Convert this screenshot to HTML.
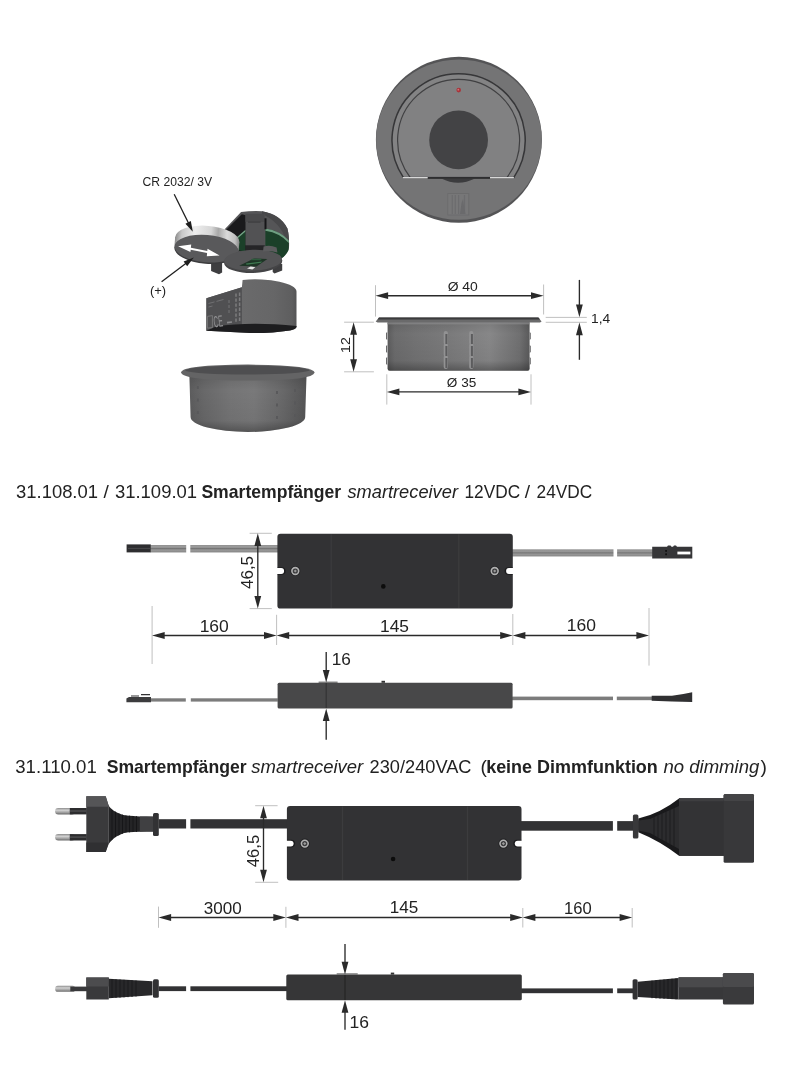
<!DOCTYPE html>
<html lang="de"><head><meta charset="utf-8"><title>Smartempfänger smartreceiver</title>
<style>
html,body{margin:0;padding:0;background:#fff;}
body{width:791px;height:1080px;overflow:hidden;font-family:"Liberation Sans",sans-serif;}
svg{display:block;position:absolute;left:0;top:0;will-change:transform;}
svg text{font-family:"Liberation Sans",sans-serif;}
</style></head><body>
<svg width="791" height="1080" viewBox="0 0 791 1080">
<defs>
<linearGradient id="gcup" x1="0" x2="1" y1="0" y2="0">
 <stop offset="0" stop-color="#5c5c5d"/><stop offset="0.05" stop-color="#6c6c6d"/><stop offset="0.2" stop-color="#737374"/><stop offset="0.45" stop-color="#7b7b7c"/><stop offset="0.72" stop-color="#878788"/><stop offset="0.93" stop-color="#707071"/><stop offset="1" stop-color="#5a5a5b"/>
</linearGradient>
<linearGradient id="gcup2" x1="0" x2="1" y1="0" y2="0">
 <stop offset="0" stop-color="#5c5c5d"/><stop offset="0.12" stop-color="#686869"/><stop offset="0.35" stop-color="#757576"/><stop offset="0.55" stop-color="#79797a"/><stop offset="0.8" stop-color="#686869"/><stop offset="1" stop-color="#555556"/>
</linearGradient>
<linearGradient id="gcupv" x1="0" x2="0" y1="0" y2="1">
 <stop offset="0" stop-color="#000" stop-opacity="0.1"/><stop offset="0.25" stop-color="#000" stop-opacity="0"/><stop offset="0.8" stop-color="#000" stop-opacity="0.05"/><stop offset="1" stop-color="#000" stop-opacity="0.3"/>
</linearGradient>
<linearGradient id="gcable" x1="0" x2="0" y1="0" y2="1">
 <stop offset="0" stop-color="#808080"/><stop offset="0.22" stop-color="#9e9e9e"/><stop offset="0.42" stop-color="#8a8a8a"/><stop offset="0.5" stop-color="#666666"/><stop offset="0.6" stop-color="#8c8c8c"/><stop offset="0.8" stop-color="#9a9a9a"/><stop offset="1" stop-color="#787878"/>
</linearGradient>
<linearGradient id="gpin" x1="0" x2="0" y1="0" y2="1">
 <stop offset="0" stop-color="#8c8c8c"/><stop offset="0.35" stop-color="#d2d2d2"/><stop offset="0.7" stop-color="#a0a0a0"/><stop offset="1" stop-color="#686868"/>
</linearGradient>
<linearGradient id="gbat" x1="0" x2="1" y1="0" y2="0">
 <stop offset="0" stop-color="#8c8c8c"/><stop offset="0.1" stop-color="#c8c8c8"/><stop offset="0.3" stop-color="#ededed"/><stop offset="0.55" stop-color="#d6d6d6"/><stop offset="0.66" stop-color="#a8a8a8"/><stop offset="0.8" stop-color="#dadada"/><stop offset="0.93" stop-color="#c0c0c0"/><stop offset="1" stop-color="#8a8a8a"/>
</linearGradient>
<linearGradient id="gmid" x1="0" x2="1" y1="0" y2="0">
 <stop offset="0" stop-color="#565657"/><stop offset="0.4" stop-color="#6a6a6b"/><stop offset="0.75" stop-color="#666667"/><stop offset="0.95" stop-color="#5e5e5f"/><stop offset="1" stop-color="#545455"/>
</linearGradient>
<radialGradient id="grim" cx="0.5" cy="0.5" r="0.5">
 <stop offset="0" stop-color="#6f6f71"/><stop offset="0.95" stop-color="#6d6d6f"/><stop offset="1" stop-color="#5a5a5c"/>
</radialGradient>
<linearGradient id="gbox" x1="0" x2="0" y1="0" y2="1">
 <stop offset="0" stop-color="#38383a"/><stop offset="1" stop-color="#303032"/>
</linearGradient>
</defs>
<rect x="0" y="0" width="791" height="1080" fill="#ffffff"/>
<g id="topview">
<circle cx="458.9" cy="139.8" r="83" fill="#545456"/>
<ellipse cx="458.9" cy="139.6" rx="82.8" ry="80.2" fill="#747475"/>
<path d="M403.6,177.8 A66.6,66.6 0 1 1 513.6,177.8 Z" fill="#838384" stroke="#363638" stroke-width="1.5"/>
<path d="M410.5,177.8 A61,61 0 1 1 506.7,177.8 Z" fill="#818182" stroke="#404042" stroke-width="1.2"/>
<circle cx="458.6" cy="139.9" r="29.4" fill="#434345"/>
<circle cx="458.7" cy="90.1" r="2.3" fill="#a8343a"/>
<circle cx="458.3" cy="89.7" r="0.9" fill="#d07278"/>
<path d="M441.3,178.5 Q458,187 475,178.5 Z" fill="#3c3c3e"/>
<rect x="402.7" y="176.9" width="111.2" height="1.8" fill="#2e2e30"/>
<rect x="402.7" y="177" width="25" height="1.5" fill="#d8d8d8"/>
<rect x="490" y="177" width="23.9" height="1.5" fill="#d8d8d8"/>
<rect x="447.8" y="193.6" width="21" height="21.4" fill="#777778" stroke="#6a6a6c" stroke-width="0.8"/>
<path d="M452.3,195 V214 M455.3,195 V214 M458.6,195 V214 M464.5,195 V214" stroke="#6c6c6e" stroke-width="1.2" fill="none"/>
<path d="M460,214 L461.5,203 L463,199 L464,206 L465.5,214 Z" fill="#6a6a6c"/>
</g>
<g id="exploded">
<text x="142.60" y="185.8" font-size="12.7" fill="#222222" textLength="69.6" lengthAdjust="spacingAndGlyphs">CR 2032/ 3V</text>
<text x="149.95" y="295.4" font-size="12.7" fill="#222222" textLength="16.2" lengthAdjust="spacingAndGlyphs">(+)</text>
<path d="M224.7,229.3 L241.1,212 Q252,210.6 262,211.2 Q280,214 287.4,228.4 Q289.4,236 289,248 Q287,254 282,258 L262,262 L232,250 Z" fill="#555557"/>
<path d="M262,211.2 Q280,214 287.4,228.4 Q289.4,236 289,248 L286,240 Q280,222 262,214 Z" fill="#48484a"/>
<path d="M226.4,229.6 L241.8,214.2 L246,215.2 L246,252 L232,250 Z" fill="#1a1a1c"/>
<path d="M236.7,238 L245.5,230.6 L245.5,252 L238,250 Z" fill="#1b4029"/>
<path d="M236.2,237.8 L245.5,229.8 L245.5,231.6 L237.2,238.8 Z" fill="#74a486"/>
<path d="M265.4,228.6 Q280,231 288.8,241 L288.6,250 Q286,256 281,258.4 L265.4,252 Z" fill="#1b4029"/>
<path d="M265.4,228.4 Q280,230.6 288.8,240.4 L288.8,243 Q280,233 265.4,230.8 Z" fill="#6f9f82"/>
<path d="M245.5,245 H264.5 L266,251 H245.5 Z" fill="#252527"/>
<rect x="245.5" y="213.9" width="19" height="31.4" fill="#525254"/>
<rect x="245.5" y="213.9" width="19" height="8" fill="#4a4a4c"/>
<rect x="248" y="221.6" width="12.5" height="1" fill="#3a3a3c"/>
<rect x="264.5" y="218.3" width="2" height="11" fill="#161618"/>
<path d="M211.1,262 H222.1 V272.5 L219,274.2 L211.1,271 Z" fill="#3e3e40"/>
<path d="M272.7,264 H282.2 V270.6 L274.5,273.6 L272.7,272 Z" fill="#3e3e40"/>
<g transform="rotate(4.8 206.5 248.7)">
<ellipse cx="206.5" cy="239.6" rx="32.2" ry="13.8" fill="url(#gbat)"/>
<rect x="174.3" y="239.6" width="64.4" height="9" fill="url(#gbat)"/>
<ellipse cx="206.5" cy="249.9" rx="32.2" ry="14" fill="#3c3c3e"/>
<ellipse cx="206.5" cy="248.7" rx="31.9" ry="13.7" fill="#59595b"/>
</g>
<polygon points="178.1,246.3 191.2,244.4 190.9,247.7 207.3,250.9 207.5,248.8 219.6,255.4 206.8,256.3 207.1,252.9 190.7,249.7 190.4,252" fill="#ffffff"/>
<line x1="174.20" y1="194.30" x2="189.06" y2="224.18" stroke="#1e1e1e" stroke-width="1.3"/><polygon points="192.80,231.70 185.44,223.63 190.81,220.96" fill="#1e1e1e"/>
<line x1="161.60" y1="281.70" x2="187.09" y2="262.55" stroke="#1e1e1e" stroke-width="1.3"/><polygon points="193.80,257.50 187.21,266.21 183.60,261.41" fill="#1e1e1e"/>
<g transform="rotate(-2 253 261)">
<ellipse cx="253.1" cy="261.6" rx="29.2" ry="11.4" fill="#444446"/>
<ellipse cx="253.1" cy="260.2" rx="29" ry="10.4" fill="#545456"/>
</g>
<path d="M263,251.6 L263.6,246.6 Q270,244.6 276.6,247.6 L277.4,252.6 Q270,250 263,251.6 Z" fill="#5c5c5e"/>
<path d="M239.2,265.8 L254,258.6 L267.4,258.9 L256.5,266.6 Z" fill="#1e3526"/>
<path d="M246,263.6 L262,261.4 L261,262.8 L246.5,264.8 Z" fill="#3f7a52"/>
<path d="M252,258.8 H262 L260.6,260.2 H251 Z" fill="#2d5a3c"/>
<path d="M247,268.4 L250.6,266.6 L255.4,267.2 L252.4,269.4 Z" fill="#e6e6e6"/>
<path d="M206.4,298.3 L241.9,287.2 L242.6,279.9 A41.5,12.2 0 0 1 296.5,291.5 L296.5,327 Q296,329.4 290,330.4 Q272,333.2 250,333 L206.4,330.7 Z" fill="url(#gmid)"/>
<path d="M206.4,298.3 L241.9,287.2 L241.9,326 L206.4,330.7 Z" fill="#505052"/>
<path d="M206.4,330.7 L216,326.5 Q250,321.5 296.5,326 L296.5,327 Q296,329.4 290,330.4 Q272,333.2 250,333 Z" fill="#1d1d1f"/>
<text x="0" y="0" font-size="8.5" fill="#929294" transform="translate(214.3,327.4) rotate(-7) scale(0.78,1.9)">CE</text>
<path d="M207.4,316.4 l5,-0.8 v12 l-5,0.6 Z" fill="none" stroke="#7a7a7c" stroke-width="0.9"/>
<path d="M208.5,303.5 l6,-1.6 M216.5,301.4 l7,-1.9 M208.5,307 l4,-1" stroke="#707072" stroke-width="1" fill="none"/>
<path d="M227,322.6 l5,-0.6" stroke="#8a8a8c" stroke-width="1.6" fill="none"/>
<path d="M229,300 v14" stroke="#6a6a6c" stroke-width="1.4" fill="none" stroke-dasharray="3 2"/>
<path d="M236,293.4 v30 M239.6,292.6 v30" stroke="#7c7c7e" stroke-width="1.5" fill="none" stroke-dasharray="3.4 1.6"/>
<path d="M189.4,376 L190.6,417 A57.3,15 0 0 0 305.2,417 L306.5,376 Z" fill="url(#gcup2)"/>
<path d="M189.4,376 L190.6,417 A57.3,15 0 0 0 305.2,417 L306.5,376 Z" fill="url(#gcupv)"/>
<path d="M181.1,372.5 Q182,365 247.9,364.6 Q314,365 314.7,372.5 Q313,380.6 247.9,380.6 Q183,380.6 181.1,372.5 Z" fill="#646465"/>
<path d="M185,370.8 Q189,366 248.5,365.6 Q307,366 310,370.6 Q300,374.4 248.5,374.6 Q195,374.4 185,370.8 Z" fill="#4e4e50"/>
<path d="M277,391 v36 M295,389 v33 M197.8,386 v30" stroke="#58585a" stroke-width="1.8" fill="none" stroke-dasharray="3 9.5"/>
</g>
<g id="cupdim">
<path d="M387.6,321 H529.6 V368.4 Q529.6,370.7 527.6,370.7 H389.6 Q387.6,370.7 387.6,368.4 Z" fill="url(#gcup)"/>
<path d="M387.6,321 H529.6 V368.4 Q529.6,370.7 527.6,370.7 H389.6 Q387.6,370.7 387.6,368.4 Z" fill="url(#gcupv)"/>
<path d="M386,333 l1.2,-1 v8 l-1.2,-1 Z M386,346 l1.2,-1 v8 l-1.2,-1 Z M386,358 l1.2,-1 v8 l-1.2,-1 Z M530.8,333 l-1.2,-1 v8 l1.2,-1 Z M530.8,346 l-1.2,-1 v8 l1.2,-1 Z M530.8,358 l-1.2,-1 v8 l1.2,-1 Z" fill="#6a6a6b"/>
<path d="M375.7,321.6 L379,317.5 L538.4,317.5 L541.6,321.4 L540,322.6 L377.6,322.6 Z" fill="#6a6a6b"/>
<path d="M377.6,319.4 L379,317.5 L538.4,317.5 L540,319.4 Z" fill="#3a3a3c"/>
<rect x="387.1" y="322.4" width="142.5" height="2" fill="#8a8a8c" opacity="0.7"/>
<path d="M445.8,333 v36 M471.3,333 v36" stroke="#929293" stroke-width="4.2" fill="none" stroke-dasharray="10 2" stroke-linecap="round"/>
<path d="M446.4,334 v35 M471.9,334 v35" stroke="#5c5c5e" stroke-width="2" fill="none" stroke-dasharray="10 2"/>
<line x1="375.5" y1="285.2" x2="375.5" y2="316.6" stroke="#b0b0b0" stroke-width="0.8"/>
<line x1="543.6" y1="284.5" x2="543.6" y2="314.5" stroke="#b0b0b0" stroke-width="0.8"/>
<line x1="385.58" y1="295.70" x2="533.52" y2="295.70" stroke="#2a2a2a" stroke-width="1.3499999999999999"/><polygon points="543.60,295.70 531.00,299.10 531.00,292.30" fill="#2a2a2a"/><polygon points="375.50,295.70 388.10,299.10 388.10,292.30" fill="#2a2a2a"/>
<text x="447.65" y="290.9" font-size="13.2" fill="#222222" textLength="30.19" lengthAdjust="spacingAndGlyphs">Ø 40</text>
<line x1="386.8" y1="374.3" x2="386.8" y2="404.6" stroke="#b0b0b0" stroke-width="0.8"/>
<line x1="531" y1="374.3" x2="531" y2="404.6" stroke="#b0b0b0" stroke-width="0.8"/>
<line x1="396.88" y1="391.90" x2="520.92" y2="391.90" stroke="#2a2a2a" stroke-width="1.3499999999999999"/><polygon points="531.00,391.90 518.40,395.30 518.40,388.50" fill="#2a2a2a"/><polygon points="386.80,391.90 399.40,395.30 399.40,388.50" fill="#2a2a2a"/>
<text x="446.80" y="387" font-size="13.2" fill="#222222" textLength="29.43" lengthAdjust="spacingAndGlyphs">Ø 35</text>
<line x1="344.1" y1="322.2" x2="373.9" y2="322.2" stroke="#b0b0b0" stroke-width="0.8"/>
<line x1="344.1" y1="371.8" x2="373.9" y2="371.8" stroke="#b0b0b0" stroke-width="0.8"/>
<line x1="353.60" y1="332.28" x2="353.60" y2="361.72" stroke="#2a2a2a" stroke-width="1.3499999999999999"/><polygon points="353.60,371.80 350.20,359.20 357.00,359.20" fill="#2a2a2a"/><polygon points="353.60,322.20 350.20,334.80 357.00,334.80" fill="#2a2a2a"/>
<text x="0" y="0" font-size="13.4" fill="#222222" textLength="15.91" lengthAdjust="spacingAndGlyphs" transform="translate(349.7,353.00) rotate(-90)">12</text>
<line x1="545.7" y1="317.4" x2="586.8" y2="317.4" stroke="#b0b0b0" stroke-width="0.8"/>
<line x1="545.7" y1="322.3" x2="586.8" y2="322.3" stroke="#b0b0b0" stroke-width="0.8"/>
<line x1="579.40" y1="279.90" x2="579.40" y2="307.12" stroke="#2a2a2a" stroke-width="1.3499999999999999"/><polygon points="579.40,317.20 576.00,304.60 582.80,304.60" fill="#2a2a2a"/>
<line x1="579.40" y1="359.80" x2="579.40" y2="332.68" stroke="#2a2a2a" stroke-width="1.3499999999999999"/><polygon points="579.40,322.60 582.80,335.20 576.00,335.20" fill="#2a2a2a"/>
<text x="591.10" y="322.8" font-size="13.0" fill="#222222" textLength="19.15" lengthAdjust="spacingAndGlyphs">1,4</text>
</g>
<g id="h1">
<text x="16.05" y="498.3" font-size="18.2" fill="#222222" textLength="81.93" lengthAdjust="spacingAndGlyphs">31.108.01</text>
<text x="106.20" y="498.3" font-size="19.2" fill="#222222" text-anchor="middle">/</text>
<text x="114.95" y="498.3" font-size="18.2" fill="#222222" textLength="82.13" lengthAdjust="spacingAndGlyphs">31.109.01</text>
<text x="201.40" y="498.3" font-size="18.2" fill="#222222" textLength="139.75" lengthAdjust="spacingAndGlyphs" font-weight="bold">Smartempfänger</text>
<text x="347.40" y="498.3" font-size="18.2" fill="#222222" textLength="110.6" lengthAdjust="spacingAndGlyphs" font-style="italic">smartreceiver</text>
<text x="464.45" y="498.3" font-size="18.2" fill="#222222" textLength="55.67" lengthAdjust="spacingAndGlyphs">12VDC</text>
<text x="527.45" y="498.3" font-size="19.2" fill="#222222" text-anchor="middle">/</text>
<text x="536.55" y="498.3" font-size="18.2" fill="#222222" textLength="55.64" lengthAdjust="spacingAndGlyphs">24VDC</text>
</g>
<g id="rec1">
<rect x="150.5" y="545.1" width="35.7" height="7.3" fill="url(#gcable)"/>
<rect x="190.3" y="545.1" width="88" height="7.3" fill="url(#gcable)"/>
<rect x="126.6" y="544.4" width="24.2" height="8" fill="#2e2e30"/>
<rect x="128" y="547.9" width="22" height="1" fill="#4a4a4c"/>
<rect x="512" y="549.4" width="101.5" height="7" fill="url(#gcable)"/>
<rect x="617.1" y="549.4" width="36.5" height="7" fill="url(#gcable)"/>
<path d="M652.2,546.8 H667 L668,545.4 H670.5 L671.5,546.8 H673 L674,545.4 H676 L677,546.8 H692.3 V558.4 H652.2 Z" fill="#363638"/>
<rect x="677.4" y="551.6" width="13" height="2.8" fill="#ffffff"/>
<rect x="665.2" y="550" width="1.8" height="1.8" fill="#111"/><rect x="665.2" y="553.4" width="1.8" height="1.8" fill="#111"/>
<rect x="277.4" y="533.7" width="235.4" height="74.9" rx="3.2" fill="#323234"/><line x1="331.2" y1="534.2" x2="331.2" y2="608.1" stroke="#3c3c3e" stroke-width="1.2"/><line x1="458.8" y1="534.2" x2="458.8" y2="608.1" stroke="#3c3c3e" stroke-width="1.2"/><path d="M277.7,567.2 H281.79999999999995 A3.8,3.8 0 0 1 281.79999999999995,574.8 H277.7 Z" fill="#1c1c1e"/><path d="M512.5,567.2 H508.4 A3.8,3.8 0 0 0 508.4,574.8 H512.5 Z" fill="#1c1c1e"/><path d="M276.4,568.1 H281.2 A2.9,2.9 0 0 1 281.2,573.9 H276.4 Z" fill="#fff"/><path d="M513.8,568.1 H508.99999999999994 A2.9,2.9 0 0 0 508.99999999999994,573.9 H513.8 Z" fill="#fff"/><circle cx="295.29999999999995" cy="571" r="5" fill="#222224"/><circle cx="295.29999999999995" cy="571" r="3.4" fill="#3a3a3c" stroke="#b0b0b0" stroke-width="1.6"/><path d="M293.69999999999993,571 L295.29999999999995,569.4 L296.9,571 L295.29999999999995,572.6 Z" fill="#9a9a9a"/><circle cx="494.69999999999993" cy="571" r="5" fill="#222224"/><circle cx="494.69999999999993" cy="571" r="3.4" fill="#3a3a3c" stroke="#b0b0b0" stroke-width="1.6"/><path d="M493.0999999999999,571 L494.69999999999993,569.4 L496.29999999999995,571 L494.69999999999993,572.6 Z" fill="#9a9a9a"/><circle cx="383.3" cy="586.4" r="2.3" fill="#0c0c0c"/>
<line x1="249.6" y1="533.3" x2="271.8" y2="533.3" stroke="#b0b0b0" stroke-width="0.8"/>
<line x1="249.6" y1="608.6" x2="271.8" y2="608.6" stroke="#b0b0b0" stroke-width="0.8"/>
<line x1="257.80" y1="543.38" x2="257.80" y2="598.52" stroke="#2a2a2a" stroke-width="1.3499999999999999"/><polygon points="257.80,608.60 254.40,596.00 261.20,596.00" fill="#2a2a2a"/><polygon points="257.80,533.30 254.40,545.90 261.20,545.90" fill="#2a2a2a"/>
<text x="0" y="0" font-size="15.9" fill="#222222" textLength="33.13" lengthAdjust="spacingAndGlyphs" transform="translate(253.3,589.05) rotate(-90)">46,5</text>
<line x1="152.1" y1="606" x2="152.1" y2="664" stroke="#b0b0b0" stroke-width="0.8"/>
<line x1="276.6" y1="614.8" x2="276.6" y2="645" stroke="#b0b0b0" stroke-width="0.8"/>
<line x1="512.8" y1="614" x2="512.8" y2="645" stroke="#b0b0b0" stroke-width="0.8"/>
<line x1="649" y1="608" x2="649" y2="665.6" stroke="#b0b0b0" stroke-width="0.8"/>
<line x1="162.18" y1="635.50" x2="266.52" y2="635.50" stroke="#2a2a2a" stroke-width="1.3499999999999999"/><polygon points="276.60,635.50 264.00,638.90 264.00,632.10" fill="#2a2a2a"/><polygon points="152.10,635.50 164.70,638.90 164.70,632.10" fill="#2a2a2a"/>
<line x1="286.68" y1="635.50" x2="502.72" y2="635.50" stroke="#2a2a2a" stroke-width="1.3499999999999999"/><polygon points="512.80,635.50 500.20,638.90 500.20,632.10" fill="#2a2a2a"/><polygon points="276.60,635.50 289.20,638.90 289.20,632.10" fill="#2a2a2a"/>
<line x1="522.88" y1="635.50" x2="638.92" y2="635.50" stroke="#2a2a2a" stroke-width="1.3499999999999999"/><polygon points="649.00,635.50 636.40,638.90 636.40,632.10" fill="#2a2a2a"/><polygon points="512.80,635.50 525.40,638.90 525.40,632.10" fill="#2a2a2a"/>
<text x="199.65" y="631.7" font-size="15.9" fill="#222222" textLength="29.17" lengthAdjust="spacingAndGlyphs">160</text>
<text x="380.05" y="631.6" font-size="15.9" fill="#222222" textLength="28.98" lengthAdjust="spacingAndGlyphs">145</text>
<text x="566.75" y="631.4" font-size="15.9" fill="#222222" textLength="29.17" lengthAdjust="spacingAndGlyphs">160</text>
<rect x="151" y="698.3" width="34.8" height="3.3" fill="#7c7c7c"/>
<rect x="190.8" y="698.3" width="87" height="3.3" fill="#7c7c7c"/>
<path d="M126.4,698.4 L129,697 L151,697 L151,702.2 L126.4,702.2 Z" fill="#3c3c3e"/>
<path d="M131,696 H139 M141,694.6 H150" stroke="#333335" stroke-width="1.1" fill="none"/>
<rect x="512" y="696.6" width="101" height="3.6" fill="#7c7c7c"/>
<rect x="616.8" y="696.6" width="36" height="3.6" fill="#7c7c7c"/>
<path d="M651.7,695.8 L672,695.8 Q682,694.6 692.2,692.3 L692.2,702.1 L672,701.4 L651.7,700.8 Z" fill="#303032"/>
<rect x="318.6" y="681.5" width="19" height="1.6" fill="#8a8a8a"/>
<rect x="381.5" y="680.8" width="3.5" height="2" fill="#333"/>
<rect x="277.6" y="682.8" width="235" height="25.6" rx="1.5" fill="#484849"/>
<rect x="325.6" y="683" width="1.2" height="25" fill="#2c2c2e" opacity="0.7"/>
<line x1="326.20" y1="652.00" x2="326.20" y2="672.52" stroke="#2a2a2a" stroke-width="1.3499999999999999"/><polygon points="326.20,682.60 322.80,670.00 329.60,670.00" fill="#2a2a2a"/>
<line x1="326.20" y1="739.70" x2="326.20" y2="718.48" stroke="#2a2a2a" stroke-width="1.3499999999999999"/><polygon points="326.20,708.40 329.60,721.00 322.80,721.00" fill="#2a2a2a"/>
<text x="331.75" y="664.6" font-size="15.9" fill="#222222" textLength="19.18" lengthAdjust="spacingAndGlyphs">16</text>
</g>
<g id="h2">
<text x="15.25" y="772.8" font-size="18.2" fill="#222222" textLength="81.53" lengthAdjust="spacingAndGlyphs">31.110.01</text>
<text x="106.70" y="772.8" font-size="18.2" fill="#222222" textLength="139.85" lengthAdjust="spacingAndGlyphs" font-weight="bold">Smartempfänger</text>
<text x="251.30" y="772.8" font-size="18.2" fill="#222222" textLength="111.95" lengthAdjust="spacingAndGlyphs" font-style="italic">smartreceiver</text>
<text x="369.60" y="772.8" font-size="18.2" fill="#222222" textLength="101.88" lengthAdjust="spacingAndGlyphs">230/240VAC</text>
<text x="483.80" y="772.8" font-size="19.2" fill="#222222" text-anchor="middle">(</text>
<text x="486.15" y="772.8" font-size="18.2" fill="#222222" textLength="171.68" lengthAdjust="spacingAndGlyphs" font-weight="bold">keine Dimmfunktion</text>
<text x="663.45" y="772.8" font-size="18.2" fill="#222222" textLength="95.9" lengthAdjust="spacingAndGlyphs" font-style="italic">no dimming</text>
<text x="763.75" y="772.8" font-size="19.2" fill="#222222" text-anchor="middle">)</text>
</g>
<g id="rec2">
<rect x="55.1" y="808.0" width="20" height="6.4" rx="3.2" fill="url(#gpin)"/>
<rect x="69.8" y="808.0" width="17" height="6.4" fill="#2c2c2e"/>
<rect x="69.8" y="810.4000000000001" width="17" height="1.2" fill="#555557"/>
<rect x="55.1" y="834.0999999999999" width="20" height="6.4" rx="3.2" fill="url(#gpin)"/>
<rect x="69.8" y="834.0999999999999" width="17" height="6.4" fill="#2c2c2e"/>
<rect x="69.8" y="836.5" width="17" height="1.2" fill="#555557"/>
<path d="M86.3,796.3 L105.7,796.3 L108.5,805.2 L108.5,844.6 L105.7,851.9 L86.3,851.9 Z" fill="#3a3a3c"/>
<path d="M86.3,796.3 L105.7,796.3 L108.5,805.2 L108.5,806.7 L86.3,806.7 Z" fill="#555557"/>
<path d="M86.3,842.6 L108.5,842.6 L108.5,843 L105.7,851.9 L86.3,851.9 Z" fill="#303032"/>
<path d="M108.4,805.2 C112,810.5 118,814 126.5,815.5 C135,816.4 145,816.6 153,816.7 L153,831.5 C145,831.6 135,831.8 126.5,832.6 C118,834.5 112,839 108.4,844.6 Z" fill="#242426"/>
<clipPath id="cptaper"><path d="M108.4,805.2 C112,810.5 118,814 126.5,815.5 C135,816.4 145,816.6 153,816.7 L153,831.5 C145,831.6 135,831.8 126.5,832.6 C118,834.5 112,839 108.4,844.6 Z"/></clipPath>
<path clip-path="url(#cptaper)" d="M112,800 V850 M115.5,800 V850 M119,800 V850 M122.5,800 V850 M126,800 V850 M129.5,800 V850 M133,800 V850 M136.5,800 V850" stroke="#161618" stroke-width="1" fill="none"/>
<rect x="139.8" y="816.5" width="13.2" height="15.1" fill="#404042"/>
<rect x="153" y="812.9" width="5.8" height="23.2" rx="1.5" fill="#323234"/>
<rect x="158.6" y="819.2" width="27.5" height="9.3" fill="#323234"/>
<rect x="190.4" y="819.2" width="98" height="9.3" fill="#323234"/>
<rect x="520" y="821.1" width="92.9" height="9.6" fill="#323234"/>
<rect x="617.2" y="821.1" width="17" height="9.6" fill="#323234"/>
<rect x="632.9" y="814.4" width="5.5" height="24" rx="1.5" fill="#38383a"/>
<path d="M638.3,818.5 Q660,813.5 679,798.4 L724,798.4 L724,855.8 L679,855.8 Q660,841 638.3,832.2 Z" fill="#19191b"/><path d="M638.3,820.6 L650,819 L679,806 L679,849 L650,833 L638.3,830.6 Z" fill="#2c2c2e"/><path d="M654,817 V835.4 M658,815.4 V837.6 M662,813.6 V839.8 M666,811.8 V842 M670,810 V844.2 M674,808.2 V846.4" stroke="#1c1c1e" stroke-width="1" fill="none"/>
<rect x="679" y="798.3" width="45" height="57.5" fill="#333335"/><rect x="679" y="798.3" width="45" height="3" fill="#3e3e40"/>
<rect x="723.6" y="793.9" width="30.4" height="68.8" rx="1.5" fill="#38383a"/>
<rect x="723.6" y="793.9" width="30.4" height="7" rx="1.5" fill="#444446"/>
<rect x="286.9" y="805.9" width="234.6" height="74.6" rx="3.2" fill="#323234"/><line x1="342.5" y1="806.4" x2="342.5" y2="880.0" stroke="#3c3c3e" stroke-width="1.2"/><line x1="467.5" y1="806.4" x2="467.5" y2="880.0" stroke="#3c3c3e" stroke-width="1.2"/><path d="M287.2,839.8000000000001 H291.29999999999995 A3.8,3.8 0 0 1 291.29999999999995,847.4 H287.2 Z" fill="#1c1c1e"/><path d="M521.2,839.8000000000001 H517.1 A3.8,3.8 0 0 0 517.1,847.4 H521.2 Z" fill="#1c1c1e"/><path d="M285.9,840.7 H290.7 A2.9,2.9 0 0 1 290.7,846.5 H285.9 Z" fill="#fff"/><path d="M522.5,840.7 H517.7 A2.9,2.9 0 0 0 517.7,846.5 H522.5 Z" fill="#fff"/><circle cx="304.79999999999995" cy="843.6" r="5" fill="#222224"/><circle cx="304.79999999999995" cy="843.6" r="3.4" fill="#3a3a3c" stroke="#b0b0b0" stroke-width="1.6"/><path d="M303.19999999999993,843.6 L304.79999999999995,842.0 L306.4,843.6 L304.79999999999995,845.2 Z" fill="#9a9a9a"/><circle cx="503.4" cy="843.6" r="5" fill="#222224"/><circle cx="503.4" cy="843.6" r="3.4" fill="#3a3a3c" stroke="#b0b0b0" stroke-width="1.6"/><path d="M501.79999999999995,843.6 L503.4,842.0 L505.0,843.6 L503.4,845.2 Z" fill="#9a9a9a"/><circle cx="393.1" cy="859" r="2.3" fill="#0c0c0c"/>
<line x1="255.2" y1="805.7" x2="277.6" y2="805.7" stroke="#b0b0b0" stroke-width="0.8"/>
<line x1="255.2" y1="882.3" x2="278.2" y2="882.3" stroke="#b0b0b0" stroke-width="0.8"/>
<line x1="263.50" y1="815.78" x2="263.50" y2="872.22" stroke="#2a2a2a" stroke-width="1.3499999999999999"/><polygon points="263.50,882.30 260.10,869.70 266.90,869.70" fill="#2a2a2a"/><polygon points="263.50,805.70 260.10,818.30 266.90,818.30" fill="#2a2a2a"/>
<text x="0" y="0" font-size="15.9" fill="#222222" textLength="32.63" lengthAdjust="spacingAndGlyphs" transform="translate(259.0,867.35) rotate(-90)">46,5</text>
<line x1="158.5" y1="906.6" x2="158.5" y2="927.8" stroke="#b0b0b0" stroke-width="0.8"/>
<line x1="285.9" y1="906.8" x2="285.9" y2="927.8" stroke="#b0b0b0" stroke-width="0.8"/>
<line x1="522.8" y1="908" x2="522.8" y2="927.5" stroke="#b0b0b0" stroke-width="0.8"/>
<line x1="632.2" y1="908" x2="632.2" y2="927.5" stroke="#b0b0b0" stroke-width="0.8"/>
<line x1="168.58" y1="917.50" x2="275.82" y2="917.50" stroke="#2a2a2a" stroke-width="1.3499999999999999"/><polygon points="285.90,917.50 273.30,920.90 273.30,914.10" fill="#2a2a2a"/><polygon points="158.50,917.50 171.10,920.90 171.10,914.10" fill="#2a2a2a"/>
<line x1="295.98" y1="917.50" x2="512.72" y2="917.50" stroke="#2a2a2a" stroke-width="1.3499999999999999"/><polygon points="522.80,917.50 510.20,920.90 510.20,914.10" fill="#2a2a2a"/><polygon points="285.90,917.50 298.50,920.90 298.50,914.10" fill="#2a2a2a"/>
<line x1="532.88" y1="917.50" x2="622.12" y2="917.50" stroke="#2a2a2a" stroke-width="1.3499999999999999"/><polygon points="632.20,917.50 619.60,920.90 619.60,914.10" fill="#2a2a2a"/><polygon points="522.80,917.50 535.40,920.90 535.40,914.10" fill="#2a2a2a"/>
<text x="203.75" y="913.5" font-size="15.9" fill="#222222" textLength="37.9" lengthAdjust="spacingAndGlyphs">3000</text>
<text x="389.75" y="913.3" font-size="15.9" fill="#222222" textLength="28.48" lengthAdjust="spacingAndGlyphs">145</text>
<text x="563.95" y="913.8" font-size="15.9" fill="#222222" textLength="27.68" lengthAdjust="spacingAndGlyphs">160</text>
<rect x="55.2" y="985.8" width="20" height="6" rx="2.6" fill="url(#gpin)"/>
<rect x="70.3" y="986.6" width="17" height="4.6" fill="#39393b"/>
<rect x="86.3" y="977.5" width="22.5" height="22" fill="#39393b"/>
<rect x="86.3" y="977.5" width="22.5" height="9" fill="#4c4c4e"/>
<path d="M108.8,978.8 L152.5,981.3 L152.5,995.2 L108.8,998.3 Z" fill="#28282a"/>
<path d="M112,979 v19 M116,979.3 v18.6 M120,979.5 v18.2 M124,979.8 v17.6 M128,980 v17.2 M132,980.2 v16.8 M136,980.5 v16" stroke="#1a1a1c" stroke-width="1" fill="none"/>
<rect x="153" y="979.3" width="5.8" height="18.5" rx="1.5" fill="#323234"/>
<rect x="158.6" y="986.3" width="27.5" height="4.8" fill="#323234"/>
<rect x="190.4" y="986.3" width="98" height="4.8" fill="#323234"/>
<rect x="520" y="988.4" width="92.9" height="4.8" fill="#323234"/>
<rect x="617.2" y="988.4" width="17" height="4.8" fill="#323234"/>
<rect x="632.6" y="979.3" width="5" height="20.2" rx="1.5" fill="#323234"/>
<path d="M637.6,981.8 L678.6,978 L678.6,999.5 L637.6,997 Z" fill="#28282a"/>
<path d="M652,980.6 v17.6 M656,980.2 v18.2 M660,979.8 v18.8 M664,979.5 v19.3 M668,979.1 v19.8 M672,978.7 v20.4 M676,978.3 v21" stroke="#1a1a1c" stroke-width="1" fill="none"/>
<rect x="678.6" y="977.3" width="45" height="22.2" fill="#38383a"/>
<rect x="678.6" y="977.3" width="45" height="10" fill="#4a4a4c"/>
<rect x="722.9" y="973" width="31.1" height="31.6" rx="1.5" fill="#3a3a3c"/>
<rect x="722.9" y="973" width="31.1" height="14" rx="1.5" fill="#4a4a4c"/>
<rect x="336.7" y="973" width="21" height="1.6" fill="#9a9a9a"/>
<rect x="390.8" y="972.6" width="3.4" height="2" fill="#333"/>
<rect x="286.3" y="974.4" width="235.5" height="25.8" rx="1.5" fill="#363637"/>
<rect x="344.4" y="975" width="1.2" height="25" fill="#1c1c1e" opacity="0.7"/>
<line x1="345.00" y1="944.00" x2="345.00" y2="964.32" stroke="#2a2a2a" stroke-width="1.3499999999999999"/><polygon points="345.00,974.40 341.60,961.80 348.40,961.80" fill="#2a2a2a"/>
<line x1="345.00" y1="1029.70" x2="345.00" y2="1010.28" stroke="#2a2a2a" stroke-width="1.3499999999999999"/><polygon points="345.00,1000.20 348.40,1012.80 341.60,1012.80" fill="#2a2a2a"/>
<text x="349.45" y="1027.8" font-size="15.9" fill="#222222" textLength="19.48" lengthAdjust="spacingAndGlyphs">16</text>
</g>
</svg>
</body></html>
